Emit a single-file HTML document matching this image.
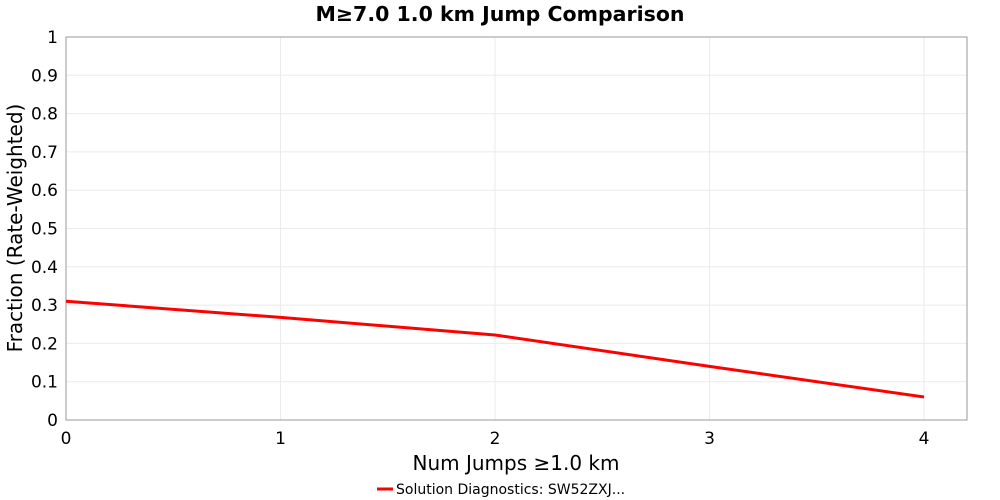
<!DOCTYPE html>
<html><head><meta charset="utf-8"><style>
html,body{margin:0;padding:0;background:#fff;width:1000px;height:500px;overflow:hidden}
svg{font-family:"DejaVu Sans","Liberation Sans",sans-serif}
</style></head><body>
<svg id="chart" width="1000" height="500">
<text x="500" y="21" text-anchor="middle" font-size="20.5" font-weight="bold">M≥7.0 1.0 km Jump Comparison</text>
<g id="grid"></g>
<rect x="66" y="37" width="901" height="383" fill="none" stroke="#999"/>
<g id="yticks"></g>
<g id="xticks"></g>
<text transform="translate(22,228) rotate(-90)" text-anchor="middle" font-size="20">Fraction (Rate-Weighted)</text>
<text x="516" y="470" text-anchor="middle" font-size="20">Num Jumps ≥1.0 km</text>
<g>
<line x1="377" y1="489" x2="393" y2="489" stroke="red" stroke-width="3"/>
<text x="396" y="494" font-size="14">Solution Diagnostics: SW52ZXJ...</text>
</g>
<polyline id="series" fill="none" stroke="red" stroke-width="3"/>
</svg>
<script>
const xValues=[0,1,2,3,4];
const yValues=[0.31,0.268,0.222,0.14,0.06];
const xTicks=[0,1,2,3,4];
const yTicks=[0,0.1,0.2,0.3,0.4,0.5,0.6,0.7,0.8,0.9,1];
const NS="http://www.w3.org/2000/svg";
const sx=v=>66+v*214.5, sy=v=>420-v*383;
const grid=document.getElementById('grid'),yt=document.getElementById('yticks'),xt=document.getElementById('xticks');
function mk(tag,attrs,parent){const e=document.createElementNS(NS,tag);for(const k in attrs)e.setAttribute(k,attrs[k]);parent.appendChild(e);return e;}
yTicks.forEach(t=>{
 const l=mk('line',{x1:66,x2:967,y1:sy(t),y2:sy(t),stroke:'#ebebeb'},grid);
 
 
 const tx=mk('text',{x:58,y:sy(t)+6,'text-anchor':'end','font-size':17},yt);
 tx.textContent=String(t);
 
 
});
xTicks.forEach(t=>{
 const l=mk('line',{x1:sx(t),x2:sx(t),y1:37,y2:420,stroke:'#ebebeb'},grid);
 
 
 const tx=mk('text',{x:sx(t),y:444,'text-anchor':'middle','font-size':17},xt);
 tx.textContent=String(t);
 
 
});
document.getElementById('series').setAttribute('points',xValues.map((x,i)=>sx(x)+','+sy(yValues[i])).join(' '));
</script>
</body></html>
